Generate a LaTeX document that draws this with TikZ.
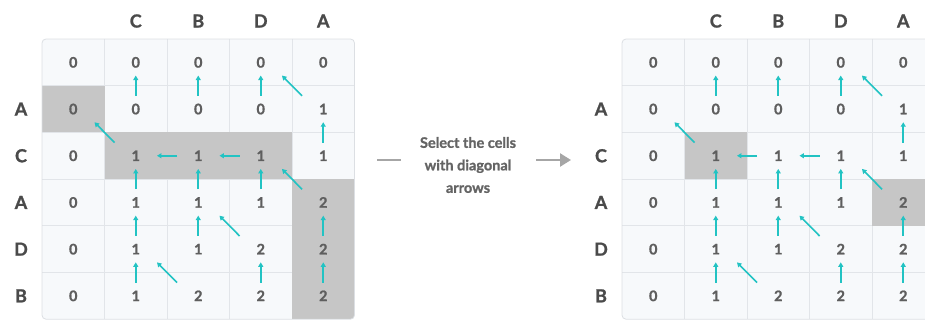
\documentclass[tikz,border=0pt]{standalone}
\usepackage{fontspec}
\setmainfont{Lato}
\newfontfamily\heavyfont{Lato}[BoldFeatures={FakeBold=1.2}]
\usetikzlibrary{arrows.meta}

\definecolor{cellbg}{HTML}{F7F9FB}
\definecolor{gridln}{HTML}{E2E5E9}
\definecolor{frameln}{HTML}{DCDFE3}
\definecolor{hilite}{HTML}{C6C6C6}
\definecolor{arrowcol}{HTML}{22C3C3}
\definecolor{numtxt}{HTML}{5E5E5E}
\definecolor{headtxt}{HTML}{4A4A4A}
\definecolor{msgtxt}{HTML}{646464}
\definecolor{flowgray}{HTML}{A6A6A6}

\tikzset{
  num/.style={font=\heavyfont\bfseries\fontsize{14.5}{15}\selectfont, text=numtxt,
    inner sep=0pt, minimum width=42pt, minimum height=26pt},
  head/.style={font=\heavyfont\bfseries\fontsize{18}{19}\selectfont, text=headtxt, inner sep=0pt},
  link/.style={draw=arrowcol, line width=1.6pt,
    -{Triangle[length=4.5pt,width=5pt,fill=arrowcol]}},
  msg/.style={font=\heavyfont\bfseries\fontsize{14.5}{22.5}\selectfont, text=msgtxt,
    align=center, inner sep=0pt},
  flow/.style={draw=flowgray, line width=2.4pt},
}

% LCS table: #1 name prefix, #2 left edge, #3 shaded cells as row/col
\newcommand\lcstable[3]{%
  \begin{scope}
    \clip[rounded corners=4pt] (#2,39) rectangle ({#2+312.5},319.2);
    \fill[cellbg] (#2,39) rectangle ({#2+312.5},319.2);
    \foreach \k in {1,...,4}
      \draw[gridln, line width=0.8pt] ({#2+\k*62.5},39) -- ({#2+\k*62.5},319.2);
    \foreach \k in {1,...,5}
      \draw[gridln, line width=0.8pt] (#2,{39+\k*46.7}) -- ({#2+312.5},{39+\k*46.7});
    \foreach \r/\c in {#3}
      \fill[hilite] ({#2+\c*62.5},{39+\r*46.7}) rectangle ({#2+(\c+1)*62.5},{39+(\r+1)*46.7});
  \end{scope}
  \draw[frameln, line width=0.8pt, rounded corners=4pt] (#2,39) rectangle ({#2+312.5},319.2);
  % column and row headers
  \foreach \t [count=\c] in {C,B,D,A}
    \node[head] (#1-col-\c) at ({#2+(\c+0.5)*62.5},21) {\t};
  \foreach \t [count=\r] in {A,C,A,D,B}
    \node[head] (#1-row-\r) at ({#2-21},{39+(\r+0.5)*46.7}) {\t};
  % table values
  \foreach \r/\vals in {0/{0,0,0,0,0},1/{0,0,0,0,1},2/{0,1,1,1,1},
                        3/{0,1,1,1,2},4/{0,1,1,2,2},5/{0,1,2,2,2}}
    \foreach \v [count=\c from 0] in \vals
      \node[num] (#1-\r-\c) at ({#2+(\c+0.5)*62.5},{39+(\r+0.5)*46.7}) {\v};
  % upward pointers
  \foreach \r/\c in {1/1,1/2,1/3,2/4,3/1,3/2,3/3,4/1,4/2,4/4,5/1,5/3,5/4}{
    \pgfmathtruncatemacro\rp{\r-1}
    \draw[link] (#1-\r-\c.north) -- (#1-\rp-\c.south);
  }
  % leftward pointers
  \draw[link] (#1-2-2.west) -- (#1-2-1.east);
  \draw[link] (#1-2-3.west) -- (#1-2-2.east);
  % diagonal pointers
  \foreach \r/\c in {1/4,2/1,3/4,4/3,5/2}{
    \pgfmathtruncatemacro\rp{\r-1}
    \pgfmathtruncatemacro\cp{\c-1}
    \draw[link] (#1-\r-\c.north west) -- (#1-\rp-\cp.south east);
  }
}

\begin{document}
\begin{tikzpicture}[x=1pt, y=-1pt]
  \useasboundingbox (0,0) rectangle (925,320);
  \clip (0,0) rectangle (925,320);

  \lcstable{L}{42}{1/0,2/1,2/2,2/3,3/4,4/4,5/4}
  \lcstable{R}{622}{2/1,3/4}

  \node[msg] (msg) at (468,165) {Select the cells\\with diagonal\\arrows};
  \coordinate (dashA) at (377,160);
  \coordinate (dashB) at (401,160);
  \coordinate (flowA) at (536,160);
  \coordinate (flowB) at (571,160);
  \draw[flow] (dashA) -- (dashB);
  \draw[flow, -{Triangle[length=11pt,width=13pt,fill=flowgray]}] (flowA) -- (flowB);
\end{tikzpicture}
\end{document}
